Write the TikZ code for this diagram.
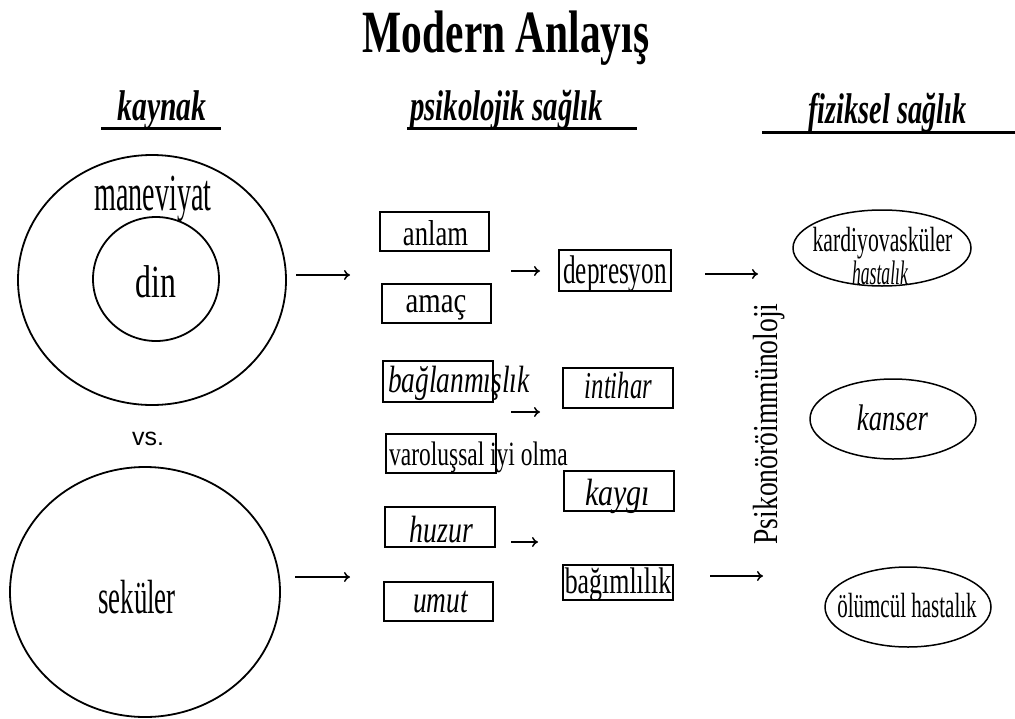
\documentclass[tikz,border=0pt]{standalone}
\usepackage{fontspec}
\setmainfont{Liberation Serif}
\newfontfamily\vsfont{Liberation Sans}
\usetikzlibrary{shapes.geometric,arrows.meta}
% size, horizontal squeeze, text
\newcommand\tx[3]{\scalebox{#2}[1]{\fontsize{#1}{#1}\selectfont #3}}
\tikzset{
  txt/.style={inner sep=0pt, anchor=base},
  circ/.style={draw, ellipse, line width=1.8pt, inner sep=0pt},
  oval/.style={draw, ellipse, line width=1.5pt, inner sep=0pt, minimum width=166pt, minimum height=80pt},
  itembox/.style={draw, rectangle, line width=1.8pt, inner sep=0pt, minimum width=110pt, minimum height=40pt},
  uline/.style={line width=3pt},
  arr/.style={line width=1.5pt, -{To[length=6pt,width=10pt]}}
}
\begin{document}
\begin{tikzpicture}[x=1pt,y=-1pt]
\useasboundingbox[fill=white] (0,0) rectangle (1015,718);

% title and column headings
\node[txt] (title) at (506,52) {\tx{60}{0.69}{\bfseries Modern Anlayış}};
\node[txt] (hsrc) at (162,120) {\tx{43}{0.69}{\bfseries\itshape kaynak}};
\node[txt] (hpsy) at (506.5,120) {\tx{43}{0.67}{\bfseries\itshape psikolojik sağlık}};
\node[txt] (hphy) at (887.5,123) {\tx{43}{0.66}{\bfseries\itshape fiziksel sağlık}};
\draw[uline] (101,128) -- (221,128);
\draw[uline] (407,128) -- (637,128);
\draw[uline] (762,132) -- (1015,132);

% sources
\node[circ, minimum width=268pt, minimum height=250pt] (spirit) at (152,280) {};
\node[circ, minimum width=126pt, minimum height=124pt] (relig) at (156,279) {};
\node[txt] (manev) at (153,210) {\tx{52}{0.54}{maneviyat}};
\node[txt] (dint) at (156,297) {\tx{46}{0.69}{din}};
\node[txt] (vs) at (148,445) {\vsfont\fontsize{25}{25}\selectfont vs.};
\node[circ, minimum width=270pt, minimum height=250pt] (secular) at (145,592) {};
\node[txt] (sect) at (137,613) {\tx{48}{0.56}{seküler}};

% psychological health, first column
\node[itembox, minimum width=109pt, minimum height=39pt] (b1) at (434.5,231.5) {};
\node[txt] (t1) at (435.5,245) {\tx{36}{0.74}{anlam}};
\node[itembox, minimum width=109pt, minimum height=39pt] (b2) at (436.5,303.5) {};
\node[txt] (t2) at (436,312) {\tx{36}{0.80}{amaç}};
\node[itembox, minimum width=110pt, minimum height=41pt] (b3) at (438,381.5) {};
\node[txt, anchor=base west] (t3) at (388,392) {\tx{38}{0.72}{\itshape bağlanmışlık}};
\node[itembox, minimum width=110pt, minimum height=39pt] (b4) at (441,453.5) {};
\node[txt, anchor=base west] (t4) at (389,465) {\tx{34}{0.69}{varoluşsal iyi olma}};
\node[itembox, minimum width=110pt, minimum height=40pt] (b5) at (440,527) {};
\node[txt] (t5) at (441.5,542) {\tx{38}{0.73}{\itshape huzur}};
\node[itembox, minimum width=109pt, minimum height=39pt] (b6) at (438.5,601.5) {};
\node[txt] (t6) at (440.5,612) {\tx{38}{0.72}{\itshape umut}};

% psychological health, second column
\node[itembox, minimum width=112pt, minimum height=41pt] (c1) at (615,270.5) {};
\node[txt] (u1) at (615,283) {\tx{40}{0.63}{depresyon}};
\node[itembox, minimum width=110pt, minimum height=40pt] (c2) at (618,388) {};
\node[txt] (u2) at (618.5,398) {\tx{38}{0.65}{\itshape intihar}};
\node[itembox, minimum width=110pt, minimum height=40pt] (c3) at (619,491) {};
\node[txt] (u3) at (617.5,505) {\tx{38}{0.79}{\itshape kaygı}};
\node[itembox, minimum width=110pt, minimum height=35pt] (c4) at (618,582.5) {};
\node[txt] (u4) at (618,593) {\tx{37}{0.70}{bağımlılık}};

% physical health
\node[txt, rotate=90] (pni) at (777,424) {\tx{35}{0.79}{Psikonöröimmünoloji}};
\node[oval, minimum width=178pt, minimum height=76pt] (cvd) at (882,248) {};
\node[txt] (cvd1) at (882.5,251) {\tx{35}{0.62}{kardiyovasküler}};
\node[txt] (cvd2) at (880,284) {\tx{34}{0.52}{\itshape hastalık}};
\node[oval] (cancer) at (893,419) {};
\node[txt] (cant) at (892.5,430) {\tx{37}{0.72}{\itshape kanser}};
\node[oval] (fatal) at (908,607) {};
\node[txt] (fatt) at (907,617) {\tx{35}{0.60}{ölümcül hastalık}};

% arrow end points
\coordinate (a1s) at (296,275); \coordinate (a1e) at (350,275);
\coordinate (a2s) at (295,577); \coordinate (a2e) at (350,577);
\coordinate (a3s) at (511,271); \coordinate (a3e) at (540,271);
\coordinate (a4s) at (511,412); \coordinate (a4e) at (540,412);
\coordinate (a5s) at (511,542); \coordinate (a5e) at (538,542);
\coordinate (a6s) at (705,274); \coordinate (a6e) at (758,274);
\coordinate (a7s) at (710,576); \coordinate (a7e) at (763,576);
\foreach \i in {1,...,7} \draw[arr] (a\i s) -- (a\i e);
\end{tikzpicture}
\end{document}
